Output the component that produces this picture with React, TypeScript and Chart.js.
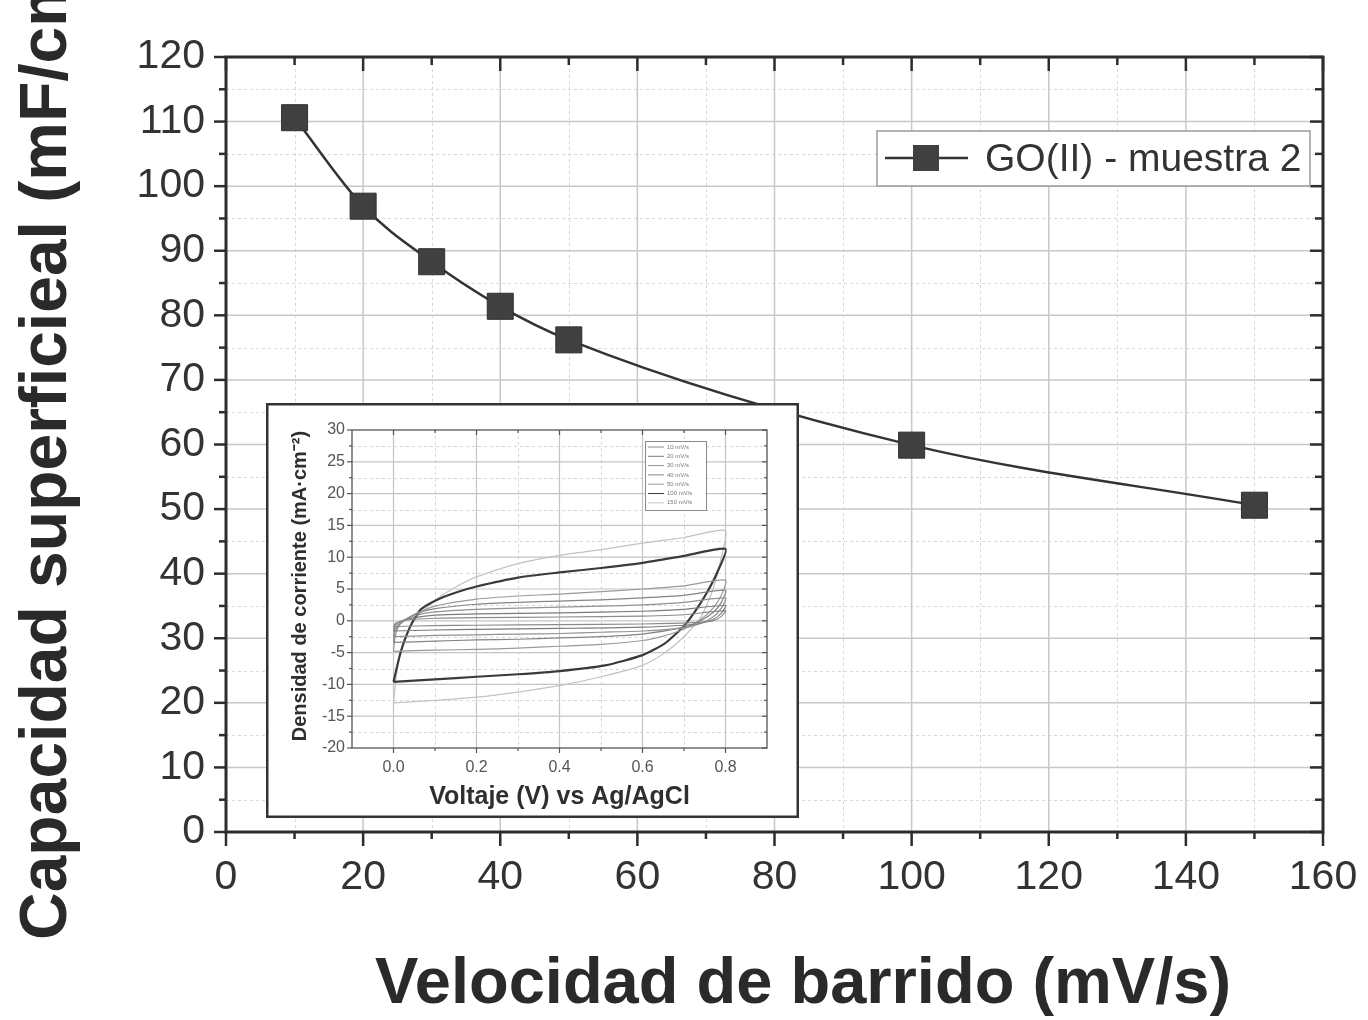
import React, { useEffect, useRef } from 'react';
import { Chart, registerables } from 'chart.js';

Chart.register(...registerables);

const FONT = "'Liberation Sans', Arimo, Arial, Helvetica, sans-serif";

// ---------- main chart data ----------
const scanRates = [10, 20, 30, 40, 50, 100, 150];
const capacitance = [110.6, 96.9, 88.3, 81.4, 76.2, 59.9, 50.6];
const seriesLabel = 'GO(II) - muestra 2';
const xAxisTitle = 'Velocidad de barrido (mV/s)';
const yAxisTitle = 'Capacidad superficieal (mF/cm²)';
const xMajorTicks = [0, 20, 40, 60, 80, 100, 120, 140, 160];
const xMinorTicks = [10, 30, 50, 70, 90, 110, 130, 150];
const yMajorTicks = [0, 10, 20, 30, 40, 50, 60, 70, 80, 90, 100, 110, 120];
const yMinorTicks = [5, 15, 25, 35, 45, 55, 65, 75, 85, 95, 105, 115];

// ---------- inset (cyclic voltammetry) data: [V, mA/cm2] ----------
const cvLabels = ['10 mV/s', '20 mV/s', '30 mV/s', '40 mV/s', '50 mV/s', '100 mV/s', '150 mV/s'];
const cv10 = [[0, -0.9], [0.005, -0.4], [0.03, 0.1], [0.1, 0.4], [0.2, 0.5], [0.4, 0.6], [0.6, 0.75], [0.7, 0.95], [0.8, 1.6], [0.79, 0.7], [0.77, 0], [0.72, -0.3], [0.6, -0.5], [0.4, -0.6], [0.2, -0.7], [0.1, -0.75], [0, -0.9]];
const cv20 = [[0, -1.6], [0.004, -0.7], [0.02, 0], [0.05, 0.5], [0.1, 0.9], [0.2, 1.1], [0.4, 1.25], [0.6, 1.5], [0.7, 1.8], [0.8, 2.4], [0.79, 1.2], [0.77, 0.2], [0.73, -0.5], [0.6, -1.0], [0.4, -1.2], [0.2, -1.35], [0.1, -1.45], [0, -1.6]];
const cv30 = [[0, -2.5], [0.004, -1.2], [0.02, -0.1], [0.05, 0.8], [0.1, 1.4], [0.2, 1.8], [0.3, 2.0], [0.4, 2.15], [0.5, 2.3], [0.6, 2.5], [0.7, 2.9], [0.8, 3.6], [0.79, 2.0], [0.77, 0.6], [0.74, -0.4], [0.7, -1.1], [0.6, -1.6], [0.5, -1.8], [0.4, -2.0], [0.3, -2.1], [0.2, -2.2], [0.1, -2.3], [0, -2.5]];
const cv40 = [[0, -3.4], [0.004, -1.6], [0.02, -0.2], [0.05, 1.0], [0.1, 1.9], [0.2, 2.6], [0.3, 2.9], [0.4, 3.1], [0.5, 3.3], [0.6, 3.6], [0.7, 4.0], [0.8, 4.8], [0.79, 2.9], [0.77, 1.3], [0.74, 0.0], [0.7, -1.0], [0.6, -2.1], [0.5, -2.5], [0.4, -2.7], [0.3, -2.9], [0.2, -3.0], [0.1, -3.2], [0, -3.4]];
const cv50 = [[0, -4.8], [0.004, -2.5], [0.015, -0.6], [0.05, 1.0], [0.1, 2.3], [0.2, 3.4], [0.3, 3.9], [0.4, 4.2], [0.5, 4.6], [0.6, 5.0], [0.7, 5.5], [0.8, 6.4], [0.79, 4.0], [0.77, 2.0], [0.74, 0.2], [0.7, -1.3], [0.65, -2.4], [0.6, -3.1], [0.5, -3.7], [0.4, -4.0], [0.3, -4.3], [0.2, -4.5], [0.1, -4.6], [0, -4.8]];
const cv100 = [[0, -9.6], [0.017, -5.0], [0.041, -0.8], [0.066, 1.8], [0.108, 3.4], [0.158, 4.6], [0.2, 5.4], [0.3, 6.8], [0.4, 7.6], [0.5, 8.3], [0.6, 9.1], [0.7, 10.2], [0.8, 11.3], [0.78, 7.6], [0.755, 4.4], [0.73, 1.8], [0.7, -0.8], [0.655, -3.5], [0.6, -5.4], [0.51, -7.0], [0.4, -7.9], [0.3, -8.4], [0.2, -8.8], [0.1, -9.2], [0, -9.6]];
const cv150 = [[0, -12.9], [0.008, -8], [0.025, -3], [0.055, 0.5], [0.1, 3.2], [0.15, 5.3], [0.2, 6.9], [0.3, 9.0], [0.4, 10.3], [0.5, 11.2], [0.6, 12.2], [0.7, 13.1], [0.8, 14.2], [0.79, 10], [0.77, 5], [0.74, 0.5], [0.7, -2.5], [0.65, -5.2], [0.6, -7.0], [0.5, -8.8], [0.4, -10.2], [0.3, -11.2], [0.2, -12.0], [0.1, -12.5], [0, -12.9]];
const cvSeries = [cv10, cv20, cv30, cv40, cv50, cv100, cv150];
const cvColors = ['#8c8c8c', '#7c7c7c', '#929292', '#858585', '#9a9a9a', '#3a3a3a', '#c2c2c2'];
const cvWidths = [1.2, 1.2, 1.2, 1.2, 1.2, 2.2, 1.2];
const insetXTitle = 'Voltaje (V) vs Ag/AgCl';
const insetYTitle = 'Densidad de corriente (mA·cm⁻²)';
const insetXMajor = [0, 0.2, 0.4, 0.6, 0.8];
const insetXMinor = [0.1, 0.3, 0.5, 0.7];
const insetYMajor = [-20, -15, -10, -5, 0, 5, 10, 15, 20, 25, 30];
const insetYMinor = [-17.5, -12.5, -7.5, -2.5, 2.5, 7.5, 12.5, 17.5, 22.5, 27.5];

function seg(ctx: any, x1: number, y1: number, x2: number, y2: number) {
  ctx.beginPath();
  ctx.moveTo(x1, y1);
  ctx.lineTo(x2, y2);
  ctx.stroke();
}

function drawGrid(chart: any, xMaj: number[], xMin: number[], yMaj: number[], yMin: number[], majColor: string, minColor: string, majW: number) {
  const { ctx, chartArea: a, scales } = chart;
  const x = scales.x, y = scales.y;
  ctx.save();
  ctx.lineWidth = 1;
  ctx.strokeStyle = minColor;
  ctx.setLineDash([3, 3]);
  xMin.forEach((v) => { const p = Math.round(x.getPixelForValue(v)) + 0.5; seg(ctx, p, a.top, p, a.bottom); });
  yMin.forEach((v) => { const p = Math.round(y.getPixelForValue(v)) + 0.5; seg(ctx, a.left, p, a.right, p); });
  ctx.setLineDash([]);
  ctx.strokeStyle = majColor;
  ctx.lineWidth = majW;
  xMaj.forEach((v) => { const p = x.getPixelForValue(v); seg(ctx, p, a.top, p, a.bottom); });
  yMaj.forEach((v) => { const p = y.getPixelForValue(v); seg(ctx, a.left, p, a.right, p); });
  ctx.restore();
}

function drawFrame(chart: any, xMaj: number[], xMin: number[], yMaj: number[], yMin: number[], color: string, w: number, tw: number, L: any) {
  const { ctx, chartArea: a, scales } = chart;
  const x = scales.x, y = scales.y;
  ctx.save();
  ctx.strokeStyle = color;
  ctx.lineWidth = tw;
  ctx.lineCap = 'butt';
  xMaj.forEach((v) => {
    const p = x.getPixelForValue(v);
    seg(ctx, p, a.bottom, p, a.bottom + L.bMaj);
    seg(ctx, p, a.top, p, a.top + L.tMaj);
  });
  xMin.forEach((v) => {
    const p = x.getPixelForValue(v);
    seg(ctx, p, a.bottom, p, a.bottom + L.bMin);
    seg(ctx, p, a.top, p, a.top + L.tMin);
  });
  yMaj.forEach((v) => {
    const p = y.getPixelForValue(v);
    seg(ctx, a.left - L.lMaj, p, a.left, p);
    seg(ctx, a.right - L.rMaj, p, a.right, p);
  });
  yMin.forEach((v) => {
    const p = y.getPixelForValue(v);
    seg(ctx, a.left - L.lMin, p, a.left, p);
    seg(ctx, a.right - L.rMin, p, a.right, p);
  });
  ctx.lineWidth = w;
  ctx.strokeRect(a.left, a.top, a.right - a.left, a.bottom - a.top);
  ctx.restore();
}

const mainDecor = {
  id: 'mainDecor',
  beforeDraw(chart: any) {
    const { ctx, width, height } = chart;
    ctx.save();
    ctx.fillStyle = '#ffffff';
    ctx.fillRect(0, 0, width, height);
    ctx.restore();
  },
  beforeDatasetsDraw(chart: any) {
    drawGrid(chart, xMajorTicks, xMinorTicks, yMajorTicks, yMinorTicks, '#c8c8c8', '#d8d8d8', 1.5);
  },
  afterDatasetsDraw(chart: any) {
    drawFrame(chart, xMajorTicks, xMinorTicks, yMajorTicks, yMinorTicks, '#2d2d2d', 3, 2.5,
      { bMaj: 14, bMin: 7, tMaj: 14, tMin: 8, lMaj: 12, lMin: 7, rMaj: 13, rMin: 8 });
  },
  afterDraw(chart: any) {
    const { ctx } = chart;
    ctx.save();
    // legend box
    ctx.fillStyle = '#ffffff';
    ctx.fillRect(877, 131, 433, 55);
    ctx.strokeStyle = '#9a9a9a';
    ctx.lineWidth = 1.5;
    ctx.strokeRect(877, 131, 433, 55);
    ctx.strokeStyle = '#333333';
    ctx.lineWidth = 2.5;
    seg(ctx, 885, 158, 968, 158);
    ctx.fillStyle = '#404040';
    ctx.fillRect(913, 145, 26, 26);
    ctx.fillStyle = '#333333';
    ctx.font = `39px ${FONT}`;
    ctx.textAlign = 'left';
    ctx.textBaseline = 'middle';
    ctx.fillText(seriesLabel, 985, 160);
    // axis titles
    ctx.fillStyle = '#2a2a2a';
    ctx.font = `bold 65px ${FONT}`;
    ctx.textBaseline = 'alphabetic';
    ctx.fillText(xAxisTitle, 375, 1003);
    ctx.font = `bold 66px ${FONT}`;
    ctx.translate(66, 940);
    ctx.rotate(-Math.PI / 2);
    ctx.fillText(yAxisTitle, 0, 0);
    ctx.restore();
  },
};

const insetDecor = {
  id: 'insetDecor',
  beforeDraw(chart: any) {
    const { ctx, width, height } = chart;
    ctx.save();
    ctx.fillStyle = '#ffffff';
    ctx.fillRect(0, 0, width, height);
    ctx.restore();
  },
  beforeDatasetsDraw(chart: any) {
    drawGrid(chart, insetXMajor, insetXMinor, insetYMajor.slice(1, -1), insetYMinor, '#c4c4c4', '#d6d6d6', 1.2);
  },
  afterDatasetsDraw(chart: any) {
    drawFrame(chart, insetXMajor, insetXMinor, insetYMajor, insetYMinor, '#555555', 1.3, 1.2,
      { bMaj: 5, bMin: 3, tMaj: 5, tMin: 3, lMaj: 5, lMin: 3, rMaj: 5, rMin: 3 });
  },
  afterDraw(chart: any) {
    const { ctx, width, height, chartArea: a } = chart;
    ctx.save();
    // inset legend
    const lx = 379, ly = 38, lw = 61, lh = 69;
    ctx.fillStyle = '#ffffff';
    ctx.fillRect(lx, ly, lw, lh);
    ctx.strokeStyle = '#8a8a8a';
    ctx.lineWidth = 1;
    ctx.strokeRect(lx + 0.5, ly + 0.5, lw, lh);
    ctx.font = `6px ${FONT}`;
    ctx.textAlign = 'left';
    ctx.textBaseline = 'middle';
    cvLabels.forEach((lab, i) => {
      const yy = ly + 6 + i * 9.3;
      ctx.strokeStyle = cvColors[i];
      ctx.lineWidth = 1;
      seg(ctx, lx + 3, yy, lx + 19, yy);
      ctx.fillStyle = '#777777';
      ctx.fillText(lab, lx + 22, yy);
    });
    // titles
    ctx.fillStyle = '#2f2f2f';
    ctx.font = `bold 25px ${FONT}`;
    ctx.textAlign = 'center';
    ctx.textBaseline = 'middle';
    ctx.fillText(insetXTitle, (a.left + a.right) / 2, 394);
    ctx.save();
    ctx.font = `bold 20px ${FONT}`;
    ctx.translate(34, (a.top + a.bottom) / 2 - 3);
    ctx.rotate(-Math.PI / 2);
    ctx.fillText(insetYTitle, 0, 0);
    ctx.restore();
    // outer border
    ctx.strokeStyle = '#333333';
    ctx.lineWidth = 2.5;
    ctx.strokeRect(1.25, 1.25, width - 2.5, height - 2.5);
    ctx.restore();
  },
};

function mainConfig(): any {
  return {
    type: 'line',
    data: {
      datasets: [
        {
          label: seriesLabel,
          data: scanRates.map((v, i) => ({ x: v, y: capacitance[i] })),
          borderColor: '#333333',
          borderWidth: 2.5,
          pointStyle: 'rect',
          pointRadius: 18.4,
          pointBackgroundColor: '#404040',
          pointBorderColor: '#303030',
          pointBorderWidth: 1,
          cubicInterpolationMode: 'monotone',
          clip: false,
        },
      ],
    },
    options: {
      responsive: false,
      animation: false,
      layout: { padding: { top: 57, right: 45, left: 0, bottom: 0 } },
      plugins: { legend: { display: false }, tooltip: { enabled: false } },
      scales: {
        x: {
          type: 'linear',
          min: 0,
          max: 160,
          ticks: {
            stepSize: 20,
            autoSkip: false,
            maxRotation: 0,
            padding: 21,
            color: '#333333',
            font: { family: FONT, size: 41 },
            callback: (v: number) => String(v),
          },
          grid: { display: false, drawTicks: false },
          border: { display: false },
          afterFit: (s: any) => { s.height = 188; s.paddingLeft = 0; s.paddingRight = 0; },
        },
        y: {
          type: 'linear',
          min: 0,
          max: 120,
          ticks: {
            stepSize: 10,
            autoSkip: false,
            padding: 21,
            color: '#333333',
            font: { family: FONT, size: 41 },
            callback: (v: number) => String(v),
          },
          grid: { display: false, drawTicks: false },
          border: { display: false },
          afterFit: (s: any) => { s.width = 226; s.paddingTop = 0; s.paddingBottom = 0; },
        },
      },
    },
    plugins: [mainDecor],
  };
}

function insetConfig(): any {
  return {
    type: 'scatter',
    data: {
      datasets: cvSeries.map((loop, i) => ({
        label: cvLabels[i],
        data: loop.map((p) => ({ x: p[0], y: p[1] })),
        showLine: true,
        borderColor: cvColors[i],
        borderWidth: cvWidths[i],
        pointRadius: 0,
        tension: 0.2,
      })),
    },
    options: {
      responsive: false,
      animation: false,
      layout: { padding: { top: 27, right: 32, left: 0, bottom: 0 } },
      plugins: { legend: { display: false }, tooltip: { enabled: false } },
      scales: {
        x: {
          type: 'linear',
          min: -0.1,
          max: 0.9,
          afterBuildTicks: (s: any) => { s.ticks = insetXMajor.map((v) => ({ value: v })); },
          ticks: {
            autoSkip: false,
            maxRotation: 0,
            padding: 10,
            color: '#555555',
            font: { family: FONT, size: 16 },
            callback: (v: number) => Number(v).toFixed(1),
          },
          grid: { display: false, drawTicks: false },
          border: { display: false },
          afterFit: (s: any) => { s.height = 70; s.paddingLeft = 0; s.paddingRight = 0; },
        },
        y: {
          type: 'linear',
          min: -20,
          max: 30,
          ticks: {
            stepSize: 5,
            autoSkip: false,
            padding: 7,
            color: '#555555',
            font: { family: FONT, size: 16 },
          },
          grid: { display: false, drawTicks: false },
          border: { display: false },
          afterFit: (s: any) => { s.width = 86; s.paddingTop = 0; s.paddingBottom = 0; },
        },
      },
    },
    plugins: [insetDecor],
  };
}

export default function App() {
  const mainRef = useRef<HTMLCanvasElement>(null);
  const insetRef = useRef<HTMLCanvasElement>(null);
  useEffect(() => {
    document.body.style.margin = '0';
    const main = new Chart(mainRef.current as HTMLCanvasElement, mainConfig());
    const inset = new Chart(insetRef.current as HTMLCanvasElement, insetConfig());
    return () => {
      main.destroy();
      inset.destroy();
    };
  }, []);
  return (
    <div style={{ position: 'relative', width: 1368, height: 1020, overflow: 'hidden' }}>
      <canvas ref={mainRef} width={1368} height={1020} style={{ position: 'absolute', left: 0, top: 0, display: 'block' }} />
      <canvas ref={insetRef} width={533} height={415} style={{ position: 'absolute', left: 266, top: 403, display: 'block' }} />
    </div>
  );
}
